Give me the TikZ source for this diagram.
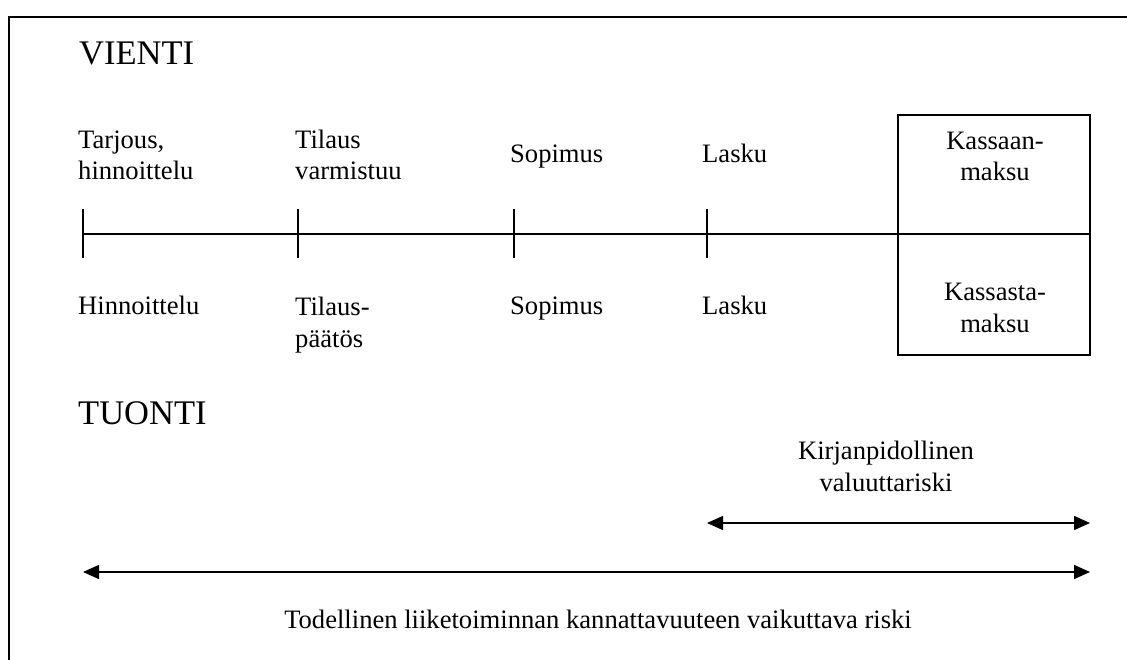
\documentclass[tikz,border=0pt]{standalone}
\usepackage{fontspec}
\setmainfont{Liberation Serif}
\usetikzlibrary{arrows.meta}
\begin{document}
\begin{tikzpicture}[x=1pt,y=-1pt,
  lbl/.style={inner sep=0pt, font=\fontsize{26.6}{31.5}\selectfont, align=left, anchor=base west},
  ctr/.style={inner sep=0pt, font=\fontsize{26.6}{31.5}\selectfont, align=center, anchor=base},
  head/.style={inner sep=0pt, font=\fontsize{34.5}{40}\selectfont, anchor=base west},
  rule/.style={line width=1.5pt},
  frame/.style={line width=2pt},
  span/.style={line width=1.5pt, {Triangle[length=16pt,width=14pt]}-{Triangle[length=16pt,width=14pt]}}
]
\useasboundingbox (0,0) rectangle (1127,660);
% outer frame (left and top edges)
\draw[frame] (9,660) -- (9,17) -- (1127,17);

% headings
\node[head] (vienti) at (79,65) {VIENTI};
\node[head] (tuonti) at (78,424) {TUONTI};

% cash box spanning both sides of the time line
\node[draw, rule, minimum width=192pt, minimum height=240pt, inner sep=0pt] (kassa) at (994,235) {};

% time line with ticks
\coordinate (t1) at (83,234);
\coordinate (t2) at (298,234);
\coordinate (t3) at (514,234);
\coordinate (t4) at (707,234);
\draw[rule] (t1) -- (kassa.east |- t1);
\foreach \t in {t1,t2,t3,t4}
  \draw[rule] ([yshift=-24pt]\t) -- ([yshift=25pt]\t);

% export labels (anchored at the baseline of their last line)
\node[lbl] (tarjous) at (78,180) {Tarjous,\\hinnoittelu};
\node[lbl] (tilaus) at (295,180) {Tilaus\\varmistuu};
\node[lbl] (sopimusv) at (510,163) {Sopimus};
\node[lbl] (laskuv) at (702,163) {Lasku};
\node[ctr] (kassaan) at (995,181) {Kassaan-\\maksu};

% import labels
\node[lbl] (hinnoittelu) at (78,315) {Hinnoittelu};
\node[lbl] (tilauspaatos) at (295,347) {Tilaus-\\päätös};
\node[lbl] (sopimust) at (510,315) {Sopimus};
\node[lbl] (laskut) at (702,315) {Lasku};
\node[ctr] (kassasta) at (995,332) {Kassasta-\\maksu};

% accounting currency risk
\node[ctr] (kirjanpito) at (886,491) {Kirjanpidollinen\\valuuttariski};
\coordinate (k0) at (707,523);
\coordinate (k1) at (1090,523);
\draw[span] (k0) -- (k1);

% actual business risk
\coordinate (r0) at (83,572);
\coordinate (r1) at (1090,572);
\draw[span] (r0) -- (r1);
\node[ctr] (todellinen) at (598,628) {Todellinen liiketoiminnan kannattavuuteen vaikuttava riski};
\end{tikzpicture}
\end{document}
